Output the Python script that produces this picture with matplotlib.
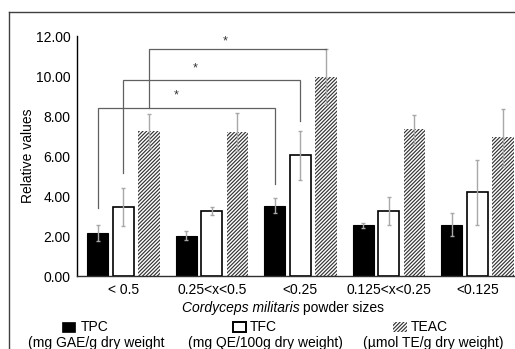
import matplotlib
matplotlib.use("Agg")
import matplotlib.pyplot as plt
from matplotlib.patches import Rectangle
from matplotlib.lines import Line2D
import numpy as np

plt.rcParams['font.family'] = ['Liberation Sans', 'DejaVu Sans']
plt.rcParams['hatch.linewidth'] = 0.85

# ---------------- data ----------------
categories = ["< 0.5", "0.25<x<0.5", "<0.25", "0.125<x<0.25", "<0.125"]
tpc = [2.13, 2.02, 3.52, 2.53, 2.57]
tpc_err = [0.40, 0.23, 0.37, 0.13, 0.56]
tfc = [3.43, 3.25, 6.03, 3.25, 4.18]
tfc_err = [0.95, 0.18, 1.22, 0.68, 1.62]
teac = [7.25, 7.20, 9.97, 7.33, 6.93]
teac_err = [0.83, 0.93, 1.38, 0.72, 1.42]
yticks = [0, 2, 4, 6, 8, 10, 12]
series_names = ["TPC", "TFC", "TEAC"]
series_units = ["(mg GAE/g dry weight", "(mg QE/100g dry weight)", "(\u00b5mol TE/g dry weight)"]
# significance brackets: (series index, group a, group b, bracket level, leg bottom a, leg bottom b)
brackets = [
    (0, 0, 2, 8.40, 3.42, 4.60),
    (1, 0, 2, 9.80, 5.17, 7.75),
    (2, 0, 2, 11.35, 8.40, 11.35),
]
star_pos = [(0.60, 9.05), (0.81, 10.40), (1.15, 11.75)]

# ---------------- layout ----------------
W, H = 515, 349
fig = plt.figure(figsize=(W / 100, H / 100), dpi=100)

def fx(px):
    return px / W

def fy(py):
    return 1 - py / H

ax_left, ax_bottom, ax_top = 77.3, 276.0, 36.0
group_px = 88.5
ax_w = 5.02 * group_px
ax = fig.add_axes([fx(ax_left), fy(ax_bottom), ax_w / W, (ax_bottom - ax_top) / H])
ax.set_xlim(-0.52, 4.5)
ax.set_ylim(0, 12)

x = np.arange(len(categories))
bw = 0.24
off = 0.29
offsets = [-off, 0.0, off]
HATCH = '/' * 9

err_kw = dict(ecolor='#a8a8a8', elinewidth=1.0, capsize=1.2, capthick=1.0)
ax.bar(x - off, tpc, bw, color='black', edgecolor='black', linewidth=0.8,
       yerr=tpc_err, error_kw=err_kw, zorder=2)
ax.bar(x, tfc, bw, color='white', edgecolor='black', linewidth=1.2,
       yerr=tfc_err, error_kw=err_kw, zorder=2)
ax.bar(x + off, teac, bw, color='white', edgecolor='#333333', linewidth=0,
       hatch=HATCH, yerr=teac_err, error_kw=err_kw, zorder=2)

# brackets
for si, ga, gb, lvl, la, lb in brackets:
    xa = ga + offsets[si]
    xb = gb + offsets[si]
    ax.plot([xa, xa, xb, xb], [la, lvl, lvl, lb], color='#606060', lw=0.9,
            zorder=3, clip_on=False, solid_joinstyle='miter')
for sx, sy in star_pos:
    ax.text(sx, sy, "*", ha='center', va='center', fontsize=9, color='#333333')

ax.set_yticks(yticks)
ax.set_yticklabels([f"{v:.2f}" for v in yticks], fontsize=10)
ax.set_xticks(x)
ax.set_xticklabels(categories, fontsize=10)
ax.tick_params(axis='both', length=0)
ax.tick_params(axis='y', pad=5)
ax.tick_params(axis='x', pad=5)
for s in ['top', 'right']:
    ax.spines[s].set_visible(False)
ax.spines['left'].set_linewidth(1.0)
ax.spines['bottom'].set_linewidth(1.0)
ax.spines['left'].set_color('black')
ax.spines['bottom'].set_color('#303030')

# axis labels
fig.text(fx(28), fy(156), "Relative values", rotation=90, ha='center', va='center', fontsize=10)
fig.text(fx(300), fy(308), "Cordyceps militaris", style='italic', ha='right', va='center', fontsize=10)
fig.text(fx(303), fy(308), "powder sizes", ha='left', va='center', fontsize=10)

# legend
handles_px = [61.7, 232.7, 393.3]
name_px = [80.7, 250.0, 410.7]
unit_px = [28.0, 188.3, 362.7]
hw, hh = 13.3, 10.6
styles = [dict(facecolor='black', edgecolor='black', lw=0.5),
          dict(facecolor='white', edgecolor='black', lw=1.4),
          dict(facecolor='white', edgecolor='#333333', lw=0, hatch=HATCH)]
for i in range(3):
    fig.patches.append(Rectangle((fx(handles_px[i]), fy(332.3)), hw / W, hh / H,
                                 transform=fig.transFigure, figure=fig, **styles[i]))
    fig.text(fx(name_px[i]), fy(327), series_names[i], ha='left', va='center', fontsize=10)
    fig.text(fx(unit_px[i]), fy(343.5), series_units[i], ha='left', va='center', fontsize=10)

# outer frame (cropped)
fig.add_artist(Line2D([fx(9.3), fx(9.3)], [fy(12.3), fy(360)], transform=fig.transFigure,
                      color='#404040', lw=1.0))
fig.add_artist(Line2D([fx(9.3), fx(530)], [fy(12.3), fy(12.3)], transform=fig.transFigure,
                      color='#404040', lw=1.0))

fig.savefig("out.png", dpi=100)
